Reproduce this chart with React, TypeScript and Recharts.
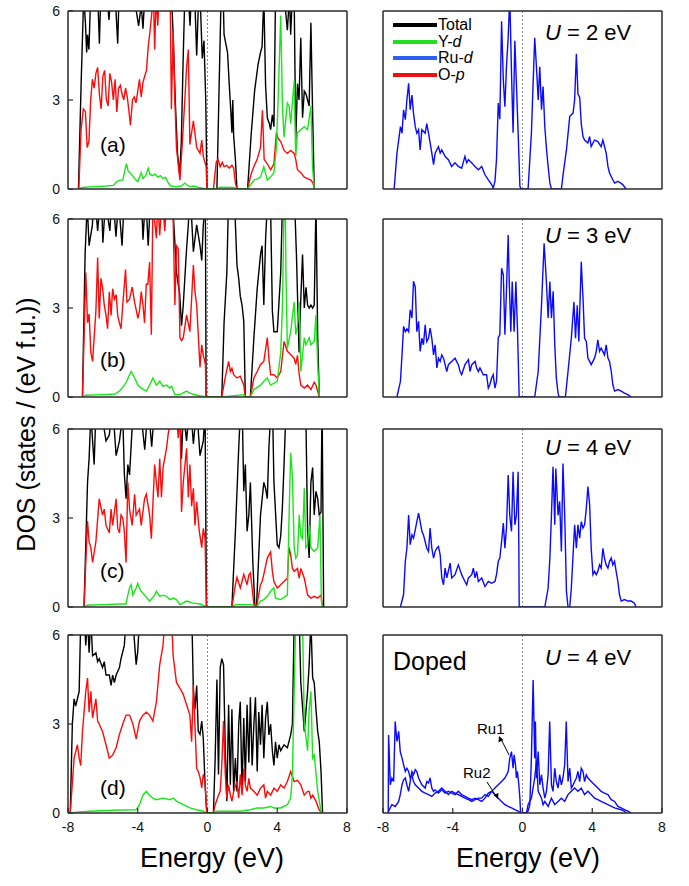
import { LineChart, Line, XAxis, YAxis, ReferenceLine } from 'recharts';

type Pt = [number, number];

const energyTicks = [-8, -4, 0, 4, 8];
const dosTicks = [0, 3, 6];

// (a) U = 2 eV
const totalA: Pt[] = [[-7.4,0],[-7.25,3.5],[-7.1,6.5],[-7.0,5.6],[-6.93,4.6],[-6.88,5.2],[-6.8,4.7],[-6.7,6.5],[-6.5,7],[-6.3,6.6],[-6.2,4.9],[-6.1,7],[-5.9,7],[-5.75,6.4],[-5.65,5.7],[-5.5,7],[-5.3,6.6],[-5.15,4.9],[-5.05,7],[-4.7,7],[-4.3,6.8],[-3.95,5.5],[-3.8,6.2],[-3.7,5.4],[-3.55,7],[-3.0,7],[-2.5,7],[-2.1,7],[-1.97,5.2],[-1.85,3.0],[-1.72,1.2],[-1.6,0.5],[-1.5,1.6],[-1.4,4.3],[-1.3,6.5],[-1.15,7],[-1.0,5.5],[-0.9,7],[-0.75,6.8],[-0.62,4.5],[-0.5,6.6],[-0.4,6.1],[-0.3,4.4],[-0.2,5.0],[-0.1,3.0],[-0.03,0],[0.54,0],[0.65,3.0],[0.78,6.5],[0.88,7],[0.95,5.2],[1.05,4.9],[1.15,4.6],[1.25,3.5],[1.35,2.5],[1.4,1.9],[1.45,3.0],[1.5,1.8],[1.6,1.0],[1.69,0],[2.3,0],[2.5,1.8],[2.7,3.3],[2.9,4.2],[3.04,4.6],[3.13,4.8],[3.23,6.5],[3.33,3.5],[3.43,2.4],[3.55,2.2],[3.62,2.0],[3.72,2.5],[3.81,2.1],[3.9,6.5],[4.0,7],[4.2,7],[4.4,6.5],[4.58,5.35],[4.7,6.5],[4.77,5.2],[4.9,7],[4.97,6.5],[5.06,1.65],[5.16,3.55],[5.25,3.0],[5.35,5.1],[5.45,2.4],[5.55,3.3],[5.65,3.2],[5.74,3.0],[5.83,2.8],[5.93,5.6],[6.02,2.8],[6.12,0]];
const oxyA: Pt[] = [[-7.38,0],[-7.25,2.0],[-7.12,2.7],[-7.0,2.6],[-6.9,1.4],[-6.8,1.6],[-6.7,3.0],[-6.6,3.7],[-6.5,3.4],[-6.4,3.9],[-6.3,4.1],[-6.2,3.2],[-6.1,2.7],[-6.0,3.8],[-5.9,4.0],[-5.8,3.0],[-5.7,2.8],[-5.6,3.9],[-5.5,3.6],[-5.4,3.0],[-5.3,3.7],[-5.2,2.6],[-5.1,3.4],[-5.0,3.5],[-4.9,3.2],[-4.8,3.0],[-4.7,3.4],[-4.6,3.1],[-4.5,2.6],[-4.42,2.15],[-4.3,3.0],[-4.2,3.1],[-4.1,2.9],[-4.0,3.3],[-3.9,3.7],[-3.8,3.1],[-3.7,3.6],[-3.6,3.8],[-3.5,4.0],[-3.4,4.8],[-3.3,5.3],[-3.2,5.9],[-3.1,6.5],[-3.03,4.7],[-2.95,6.5],[-2.85,5.5],[-2.75,7],[-2.6,6.4],[-2.5,7],[-2.3,6.6],[-2.15,7],[-2.07,2.7],[-1.97,5.35],[-1.87,3.0],[-1.78,1.4],[-1.58,0.3],[-1.45,1.5],[-1.3,3.0],[-1.2,4.1],[-1.1,4.7],[-1.01,1.5],[-0.81,2.3],[-0.62,1.4],[-0.43,1.2],[-0.33,1.65],[-0.24,1.1],[-0.08,0.76],[-0.03,0],[0.34,0],[0.5,0.9],[0.6,1.0],[0.73,0.75],[0.85,0.9],[0.95,0.75],[1.1,0.8],[1.25,0.7],[1.4,0.8],[1.5,0.7],[1.6,0.2],[1.69,0],[2.3,0],[2.5,0.5],[2.66,0.76],[2.85,1.0],[3.04,1.4],[3.15,2.65],[3.25,1.0],[3.43,0.85],[3.62,0.65],[3.81,0.85],[3.95,1.9],[4.05,1.7],[4.2,1.6],[4.39,1.3],[4.58,1.2],[4.77,1.3],[4.97,1.2],[5.06,1.0],[5.16,0.65],[5.35,0.55],[5.55,0.4],[5.74,0.35],[5.93,0.3],[6.05,0.2],[6.12,0]];
const yttA: Pt[] = [[-7.38,0],[-7.2,0.05],[-6.5,0.08],[-5.8,0.1],[-5.4,0.12],[-5.2,0.25],[-5.0,0.3],[-4.86,0.3],[-4.75,0.6],[-4.65,0.85],[-4.55,0.6],[-4.45,0.55],[-4.3,0.45],[-4.1,0.3],[-4.0,0.25],[-3.9,0.4],[-3.8,0.55],[-3.7,0.35],[-3.55,0.45],[-3.4,0.7],[-3.3,0.5],[-3.15,0.45],[-3.0,0.5],[-2.85,0.4],[-2.7,0.45],[-2.55,0.35],[-2.4,0.4],[-2.25,0.2],[-2.1,0.1],[-1.8,0.08],[-1.5,0.1],[-1.3,0.2],[-1.15,0.12],[-1.0,0.08],[-0.8,0.1],[-0.5,0.05],[-0.04,0],[0.54,0],[0.7,0.06],[1.5,0.05],[1.69,0],[2.3,0],[2.66,0.3],[2.9,0.35],[3.04,0.4],[3.23,0.75],[3.43,0.3],[3.62,0.4],[3.81,0.55],[3.95,1.4],[4.05,3.0],[4.2,5.85],[4.3,2.7],[4.39,1.75],[4.58,2.9],[4.68,2.8],[4.77,2.2],[4.97,3.65],[5.06,1.1],[5.16,1.9],[5.35,2.0],[5.55,2.1],[5.74,2.0],[5.93,2.8],[6.02,0.8],[6.12,0]];
const ruA: Pt[] = [[-7.36,0],[-7.2,1.2],[-7.0,2.1],[-6.91,1.88],[-6.82,2.67],[-6.72,2.34],[-6.63,3.0],[-6.53,3.56],[-6.44,2.67],[-6.34,3.17],[-6.25,2.55],[-6.15,2.1],[-6.06,1.88],[-5.96,2.0],[-5.87,1.32],[-5.77,2.0],[-5.58,1.88],[-5.49,2.2],[-5.39,1.88],[-5.2,1.21],[-5.1,0.82],[-5.01,1.21],[-4.82,1.43],[-4.72,1.21],[-4.63,1.32],[-4.44,1.1],[-4.25,0.99],[-4.06,0.76],[-3.87,0.88],[-3.68,0.76],[-3.49,0.7],[-3.3,1.1],[-3.2,0.88],[-3.1,0.99],[-2.91,0.88],[-2.72,0.76],[-2.53,0.65],[-2.34,0.76],[-2.15,0.48],[-1.96,0.31],[-1.77,0.15],[-1.68,0.03],[-1.58,0.26],[-1.49,1.0],[-1.39,2.9],[-1.3,2.35],[-1.2,5.65],[-1.1,3.67],[-1.01,2.77],[-0.92,4.12],[-0.82,5.13],[-0.73,6.5],[-0.63,3.9],[-0.54,1.9],[-0.44,5.0],[-0.35,3.56],[-0.25,1.9],[-0.15,0.1],[-0.09,0],[0.32,0],[0.51,1.88],[0.7,5.1],[0.8,4.12],[0.9,3.0],[0.99,4.12],[1.09,2.67],[1.18,3.45],[1.28,2.1],[1.38,1.32],[1.47,0.76],[1.57,0.2],[1.66,0],[2.23,0],[2.33,0.5],[2.52,1.32],[2.71,2.45],[2.9,2.56],[2.99,3.0],[3.09,4.56],[3.18,3.2],[3.28,3.09],[3.37,2.2],[3.47,1.77],[3.56,1.65],[3.75,1.55],[3.85,1.77],[3.94,1.43],[4.13,1.65],[4.32,1.6],[4.51,1.43],[4.61,1.65],[4.8,1.21],[4.9,0.76],[4.99,0.54],[5.18,0.31],[5.28,0.2],[5.47,0.26],[5.75,0.15],[5.94,0]];

// (b) U = 3 eV
const totalB: Pt[] = [[-7.17,0],[-7.02,4.8],[-6.9,6.5],[-6.79,5.1],[-6.6,5.8],[-6.5,7],[-6.3,5.6],[-6.1,7],[-6.0,5.2],[-5.85,6.6],[-5.6,5.6],[-5.45,7],[-5.25,5.4],[-5.1,6.6],[-4.9,5.1],[-4.75,7],[-4.3,7],[-3.8,7],[-3.7,5.3],[-3.55,6.8],[-3.4,5.1],[-3.25,7],[-3.0,7],[-2.5,7],[-2.05,7],[-1.9,5.5],[-1.78,4.2],[-1.6,3.5],[-1.49,2.4],[-1.39,3.1],[-1.2,5.0],[-1.1,5.8],[-1.0,7],[-0.81,4.9],[-0.62,5.8],[-0.43,5.1],[-0.33,4.6],[-0.24,5.8],[-0.12,6.5],[-0.08,0],[0.82,0],[0.95,2.5],[1.11,4.2],[1.2,6.5],[1.4,7],[1.55,6.6],[1.69,4.45],[1.79,4.0],[1.88,3.4],[1.98,3.1],[2.08,2.55],[2.17,0],[2.46,0],[2.66,2.0],[2.85,3.65],[3.04,4.8],[3.13,5.1],[3.23,3.1],[3.33,5.3],[3.43,6.5],[3.6,7],[3.72,2.9],[3.81,2.2],[4.0,2.2],[4.2,4.2],[4.3,6.6],[4.5,7],[4.8,7],[5.0,6.5],[5.1,4.8],[5.25,1.5],[5.35,3.3],[5.45,4.8],[5.55,3.0],[5.65,3.7],[5.74,3.1],[5.83,3.0],[5.93,3.1],[6.03,3.0],[6.12,3.1],[6.22,6.5],[6.32,2.0],[6.41,0]];
const oxyB: Pt[] = [[-7.17,0],[-6.98,4.2],[-6.88,2.5],[-6.79,2.8],[-6.69,1.5],[-6.59,1.2],[-6.5,2.0],[-6.4,2.9],[-6.3,4.7],[-6.21,2.65],[-6.11,4.0],[-6.02,3.7],[-5.92,3.1],[-5.82,2.75],[-5.73,2.3],[-5.63,3.55],[-5.53,2.75],[-5.44,3.65],[-5.34,3.3],[-5.24,3.45],[-5.15,2.75],[-5.05,2.5],[-4.96,2.3],[-4.86,3.1],[-4.7,4.3],[-4.62,3.2],[-4.47,3.3],[-4.32,3.7],[-4.18,3.2],[-3.99,2.65],[-3.9,2.9],[-3.8,3.55],[-3.7,3.1],[-3.61,2.5],[-3.51,3.8],[-3.42,3.8],[-3.32,4.55],[-3.22,2.1],[-3.13,6.5],[-2.93,5.35],[-2.85,6.6],[-2.74,5.45],[-2.6,6.8],[-2.45,5.6],[-2.3,7],[-2.1,6.6],[-1.97,6.0],[-1.87,3.1],[-1.78,5.1],[-1.68,5.0],[-1.58,2.0],[-1.49,1.9],[-1.39,2.0],[-1.2,2.77],[-1.01,2.2],[-0.81,4.45],[-0.72,3.55],[-0.62,3.1],[-0.43,1.0],[-0.33,1.76],[-0.24,1.4],[-0.12,1.1],[-0.08,0],[0.82,0],[1.0,0.6],[1.21,1.2],[1.31,0.86],[1.4,0.97],[1.5,0.75],[1.69,0.64],[1.88,0.7],[2.08,0.4],[2.17,0],[2.46,0],[2.66,0.64],[2.85,0.86],[3.04,1.1],[3.23,1.2],[3.43,2.0],[3.52,1.3],[3.62,0.75],[3.81,0.75],[4.0,0.64],[4.2,0.86],[4.39,1.87],[4.58,1.54],[4.77,1.43],[4.97,1.3],[5.06,1.1],[5.16,1.4],[5.26,0.75],[5.35,0.4],[5.55,0.3],[5.74,0.4],[5.93,0.25],[6.12,0.5],[6.22,0.4],[6.41,0]];
const yttB: Pt[] = [[-7.17,0],[-7.0,0.06],[-6.0,0.08],[-5.3,0.1],[-5.05,0.2],[-4.76,0.4],[-4.63,0.53],[-4.47,0.75],[-4.38,0.86],[-4.18,0.64],[-3.99,0.4],[-3.8,0.3],[-3.51,0.2],[-3.32,0.4],[-3.13,0.64],[-2.93,0.4],[-2.74,0.53],[-2.55,0.36],[-2.35,0.4],[-2.16,0.3],[-2.06,0.36],[-1.87,0.08],[-1.58,0.08],[-1.2,0.2],[-1.01,0.13],[-0.62,0.06],[-0.08,0],[0.82,0],[1.11,0.02],[2.08,0.08],[2.17,0],[2.46,0],[2.66,0.25],[3.04,0.4],[3.23,0.53],[3.43,0.64],[3.62,0.4],[4.0,0.53],[4.2,1.5],[4.3,3.1],[4.39,6.5],[4.45,7],[4.5,4.2],[4.58,1.65],[4.77,2.2],[4.97,3.2],[5.06,2.1],[5.16,2.4],[5.26,3.2],[5.35,0.86],[5.45,1.4],[5.55,2.0],[5.64,1.76],[5.74,1.87],[5.83,2.0],[5.93,1.76],[6.12,1.87],[6.22,2.77],[6.32,1.1],[6.41,0]];
const ruB: Pt[] = [[-7.2,0],[-7.0,0.53],[-6.91,1.42],[-6.82,2.38],[-6.72,2.2],[-6.63,2.3],[-6.53,2.2],[-6.44,2.94],[-6.34,2.66],[-6.25,3.9],[-6.15,3.7],[-6.06,2.2],[-5.96,2.55],[-5.87,1.54],[-5.77,1.98],[-5.68,1.76],[-5.58,2.43],[-5.49,1.87],[-5.39,1.98],[-5.3,2.32],[-5.2,1.98],[-5.1,1.42],[-5.01,1.76],[-4.91,0.98],[-4.82,1.31],[-4.72,1.2],[-4.63,1.42],[-4.53,1.31],[-4.44,1.09],[-4.34,0.86],[-4.25,1.09],[-4.06,1.2],[-3.87,1.31],[-3.78,1.2],[-3.68,1.09],[-3.58,0.86],[-3.49,0.75],[-3.3,1.09],[-3.1,1.26],[-3.01,0.86],[-2.91,1.09],[-2.72,1.2],[-2.63,0.98],[-2.53,0.86],[-2.44,0.98],[-2.25,0.75],[-2.06,0.75],[-1.96,0.3],[-1.87,0.42],[-1.77,0.64],[-1.68,0.75],[-1.58,0.3],[-1.49,0.53],[-1.39,2.0],[-1.3,2.1],[-1.2,4.34],[-1.1,4.12],[-1.01,2.1],[-0.92,3.59],[-0.82,5.46],[-0.76,3.89],[-0.67,2.2],[-0.59,3.89],[-0.48,2.2],[-0.38,3.89],[-0.29,2.32],[-0.19,0],[0.7,0],[0.9,0.86],[1.09,3.1],[1.24,5.18],[1.37,3.89],[1.47,2.66],[1.57,3.89],[1.66,2.66],[1.76,3.56],[1.85,1.76],[1.94,0.64],[2.04,0.13],[2.1,0],[2.46,0],[2.61,0.86],[2.8,1.98],[2.95,3.2],[3.04,1.98],[3.14,3.09],[3.23,1.87],[3.37,4.56],[3.47,3.33],[3.56,1.98],[3.66,1.87],[3.75,1.31],[3.85,1.2],[3.94,1.09],[4.13,1.31],[4.23,1.54],[4.32,1.93],[4.42,1.54],[4.51,1.65],[4.7,1.42],[4.8,1.76],[4.9,1.31],[4.99,1.2],[5.09,0.86],[5.18,0.42],[5.28,0.2],[5.47,0.25],[5.66,0.2],[5.85,0.13],[6.04,0.08],[6.23,0]];

// (c) U = 4 eV
const totalC: Pt[] = [[-7.08,0],[-6.88,4.2],[-6.79,5.0],[-6.69,6.5],[-6.5,4.8],[-6.4,6.6],[-6.2,7],[-5.82,5.6],[-5.63,5.8],[-5.44,6.8],[-5.24,5.1],[-5.05,5.6],[-4.86,6.5],[-4.77,4.5],[-4.67,3.65],[-4.57,4.8],[-4.47,4.45],[-4.28,6.5],[-3.9,7],[-3.6,5.3],[-3.4,6.8],[-3.2,5.4],[-3.0,7],[-2.5,7],[-2.0,7],[-1.58,6.6],[-1.49,5.0],[-1.39,6.6],[-1.2,5.6],[-1.0,7],[-0.81,5.5],[-0.62,6.7],[-0.43,5.1],[-0.24,5.6],[-0.14,6.6],[-0.06,0],[1.4,0],[1.6,2.55],[1.79,5.35],[1.88,6.5],[1.98,7],[2.08,3.9],[2.17,4.8],[2.27,2.55],[2.37,3.1],[2.46,4.2],[2.6,1.5],[2.72,0],[2.81,0],[3.04,3.1],[3.23,4.2],[3.33,4.0],[3.43,3.65],[3.52,5.35],[3.62,6.5],[3.72,7],[3.81,4.2],[4.0,2.1],[4.1,2.0],[4.2,2.4],[4.29,3.3],[4.39,4.8],[4.49,6.5],[4.8,7],[5.3,7],[5.64,6.5],[5.74,2.55],[5.83,1.65],[5.93,4.2],[6.03,4.7],[6.12,3.1],[6.22,3.9],[6.32,3.65],[6.41,3.1],[6.51,3.2],[6.57,7],[6.66,0]];
const oxyC: Pt[] = [[-7.08,0],[-6.98,1.5],[-6.88,2.9],[-6.79,2.2],[-6.69,2.0],[-6.59,1.5],[-6.4,2.2],[-6.21,3.65],[-6.02,3.1],[-5.92,3.3],[-5.82,2.75],[-5.63,2.5],[-5.53,3.3],[-5.44,2.75],[-5.24,3.65],[-5.15,2.65],[-5.05,2.5],[-4.96,3.1],[-4.86,3.0],[-4.77,2.55],[-4.67,1.5],[-4.57,4.2],[-4.47,3.3],[-4.32,2.75],[-4.18,3.8],[-4.09,3.1],[-3.9,3.3],[-3.8,2.75],[-3.61,3.65],[-3.51,3.8],[-3.32,3.1],[-3.22,2.3],[-3.03,4.8],[-2.93,4.2],[-2.84,3.7],[-2.74,5.0],[-2.64,3.7],[-2.55,4.7],[-2.35,5.35],[-2.26,5.8],[-2.06,6.5],[-1.97,7],[-1.78,6.6],[-1.68,5.7],[-1.58,6.6],[-1.49,3.2],[-1.39,4.2],[-1.2,5.35],[-1.1,3.7],[-1.01,4.8],[-0.91,3.4],[-0.81,4.0],[-0.72,2.75],[-0.62,3.55],[-0.47,2.55],[-0.33,2.0],[-0.24,2.65],[-0.14,2.3],[-0.06,0],[1.4,0],[1.6,0.75],[1.69,1.0],[1.88,0.64],[1.98,0.86],[2.08,1.1],[2.27,0.75],[2.37,1.08],[2.46,1.15],[2.56,0.64],[2.66,0.08],[2.75,0],[2.81,0],[3.04,0.75],[3.13,0.86],[3.23,1.1],[3.43,1.65],[3.62,1.86],[3.72,1.2],[3.81,0.86],[4.0,0.64],[4.2,0.75],[4.39,0.86],[4.58,0.97],[4.68,2.0],[4.77,1.76],[4.87,1.3],[4.97,1.2],[5.16,1.3],[5.26,0.97],[5.35,1.3],[5.55,0.97],[5.74,0.4],[5.93,0.3],[6.12,0.36],[6.32,0.3],[6.51,0.4],[6.6,0]];
const yttC: Pt[] = [[-7.08,0],[-6.9,0.06],[-6.0,0.08],[-5.0,0.1],[-4.67,0.1],[-4.57,0.4],[-4.47,0.64],[-4.38,0.75],[-4.28,0.4],[-4.09,0.64],[-4.0,0.8],[-3.9,0.64],[-3.8,0.53],[-3.61,0.4],[-3.32,0.2],[-3.03,0.4],[-2.93,0.53],[-2.74,0.36],[-2.55,0.4],[-2.35,0.36],[-2.16,0.25],[-1.97,0.3],[-1.78,0.25],[-1.58,0.08],[-1.2,0.2],[-0.81,0.13],[-0.43,0.1],[-0.06,0],[1.4,0],[1.6,0.08],[2.46,0.08],[2.66,0.05],[2.75,0],[2.81,0],[3.04,0.2],[3.23,0.25],[3.43,0.36],[3.62,0.53],[3.81,0.64],[3.9,0.3],[4.2,0.25],[4.58,0.4],[4.68,3.1],[4.77,5.2],[4.87,4.4],[4.97,2.0],[5.06,1.65],[5.16,1.76],[5.26,3.1],[5.35,2.4],[5.45,2.3],[5.55,4.0],[5.64,2.0],[5.74,2.1],[5.83,2.77],[5.93,2.0],[6.12,1.87],[6.32,2.0],[6.45,3.1],[6.53,0.2],[6.6,0]];
const ruC: Pt[] = [[-7.0,0],[-6.82,0.42],[-6.72,1.54],[-6.63,1.98],[-6.53,3.1],[-6.44,2.1],[-6.34,2.43],[-6.25,2.32],[-6.15,2.6],[-6.06,2.88],[-5.96,3.16],[-5.87,2.88],[-5.77,2.55],[-5.68,2.43],[-5.58,2.2],[-5.49,1.98],[-5.39,1.87],[-5.3,2.66],[-5.2,1.98],[-5.1,1.65],[-5.01,1.87],[-4.91,1.98],[-4.82,2.04],[-4.72,1.76],[-4.63,0.98],[-4.53,0.75],[-4.44,1.31],[-4.34,0.98],[-4.15,1.48],[-4.06,0.98],[-3.87,1.09],[-3.68,1.42],[-3.49,1.09],[-3.3,0.86],[-3.2,0.75],[-3.1,0.98],[-2.91,1.09],[-2.82,1.31],[-2.72,0.98],[-2.63,1.2],[-2.53,0.86],[-2.34,0.98],[-2.15,0.69],[-1.96,0.86],[-1.77,0.8],[-1.58,0.86],[-1.49,1.09],[-1.39,1.54],[-1.3,1.65],[-1.2,2.2],[-1.1,2.83],[-1.01,1.98],[-0.92,2.66],[-0.82,4.45],[-0.73,3.09],[-0.63,2.55],[-0.54,4.56],[-0.44,2.77],[-0.35,3.09],[-0.25,4.56],[-0.21,2.0],[-0.19,0],[1.28,0],[1.47,0.64],[1.57,1.65],[1.66,3.09],[1.75,4.73],[1.85,2.77],[1.91,4.67],[2.04,3.09],[2.13,3.56],[2.23,1.87],[2.32,4.84],[2.42,3.09],[2.52,0.53],[2.61,0],[2.71,0],[2.8,0.64],[2.99,2.77],[3.09,1.98],[3.18,2.77],[3.28,2.32],[3.37,2.88],[3.47,2.66],[3.56,2.77],[3.66,3.33],[3.75,4.06],[3.85,3.45],[3.94,1.98],[4.04,1.09],[4.13,1.2],[4.23,1.09],[4.32,1.2],[4.42,1.42],[4.51,1.31],[4.61,1.98],[4.7,1.65],[4.8,1.42],[4.9,1.31],[4.99,1.54],[5.09,1.65],[5.18,1.42],[5.28,1.54],[5.37,1.2],[5.47,0.86],[5.56,0.42],[5.66,0.2],[5.85,0.25],[6.04,0.2],[6.23,0.2],[6.42,0.13],[6.51,0]];

// (d) doped, U = 4 eV
const totalD: Pt[] = [[-7.87,0],[-7.75,3.0],[-7.65,3.85],[-7.56,3.6],[-7.46,3.85],[-7.36,4.1],[-7.27,6.5],[-7.1,7],[-6.98,5.65],[-6.88,6.6],[-6.79,5.4],[-6.69,6.6],[-6.59,5.3],[-6.4,5.4],[-6.3,5.1],[-6.21,5.2],[-6.02,4.9],[-5.92,5.1],[-5.82,4.65],[-5.63,4.65],[-5.53,4.3],[-5.44,4.65],[-5.34,4.4],[-5.24,4.65],[-5.05,4.9],[-4.96,5.2],[-4.77,5.65],[-4.67,6.5],[-4.47,7],[-4.28,6.5],[-4.09,5.0],[-4.0,5.45],[-3.9,6.5],[-3.5,7],[-2.5,7],[-1.5,7],[-0.91,7],[-0.81,4.1],[-0.72,3.5],[-0.62,4.3],[-0.53,2.75],[-0.43,2.65],[-0.33,3.1],[-0.24,2.5],[-0.14,0.95],[-0.04,0],[0.34,0],[0.44,1.85],[0.54,4.5],[0.63,1.3],[0.73,4.9],[0.82,5.2],[0.92,5.0],[1.02,2.1],[1.11,0.4],[1.21,3.65],[1.31,0.95],[1.4,3.5],[1.5,0.73],[1.6,1.85],[1.69,0.73],[1.79,3.0],[1.88,3.75],[1.98,0.73],[2.08,3.2],[2.17,1.06],[2.27,3.65],[2.37,1.7],[2.46,3.9],[2.56,1.6],[2.66,3.0],[2.75,3.9],[2.85,1.4],[2.94,3.4],[3.04,2.3],[3.13,3.65],[3.23,1.85],[3.33,3.2],[3.43,3.75],[3.52,2.63],[3.62,3.0],[3.72,2.1],[3.81,1.6],[3.9,2.4],[4.0,1.85],[4.1,2.3],[4.2,2.1],[4.39,2.3],[4.58,2.2],[4.77,2.63],[4.87,3.0],[4.97,6.5],[5.1,7],[5.25,6.8],[5.35,4.4],[5.55,2.75],[5.74,4.1],[5.83,5.0],[5.93,6.5],[6.03,4.55],[6.12,4.4],[6.22,3.5],[6.32,2.75],[6.41,2.4],[6.51,1.4],[6.6,0]];
const oxyD: Pt[] = [[-7.87,0],[-7.65,1.85],[-7.46,2.3],[-7.36,1.85],[-7.27,1.6],[-7.17,2.75],[-6.98,4.1],[-6.88,4.55],[-6.79,3.4],[-6.69,4.1],[-6.59,3.2],[-6.4,3.85],[-6.3,3.1],[-6.21,3.0],[-6.02,2.75],[-5.82,2.3],[-5.63,1.85],[-5.44,1.95],[-5.24,2.2],[-5.05,2.65],[-4.86,3.0],[-4.67,3.3],[-4.47,3.3],[-4.28,3.0],[-4.09,2.5],[-3.9,3.1],[-3.7,3.3],[-3.51,3.4],[-3.32,3.3],[-3.13,3.1],[-2.93,3.75],[-2.74,5.0],[-2.55,5.65],[-2.45,6.5],[-2.2,7],[-2.06,6.6],[-1.97,5.3],[-1.78,4.4],[-1.58,4.2],[-1.39,4.0],[-1.2,3.65],[-1.01,3.3],[-0.91,2.4],[-0.81,4.3],[-0.72,2.95],[-0.62,1.5],[-0.53,1.4],[-0.43,1.2],[-0.33,0.85],[-0.24,1.3],[-0.14,1.06],[-0.04,0],[0.34,0],[0.44,0.28],[0.63,0.6],[0.73,0.73],[0.82,1.63],[0.92,3.1],[1.02,1.3],[1.11,0.5],[1.21,0.95],[1.31,0.6],[1.4,0.4],[1.5,0.73],[1.69,1.06],[1.79,0.5],[1.88,1.3],[1.98,0.6],[2.08,1.5],[2.17,0.95],[2.27,0.73],[2.37,1.17],[2.46,0.84],[2.66,0.73],[2.85,0.6],[3.04,0.84],[3.23,0.95],[3.33,0.5],[3.43,0.73],[3.62,0.6],[3.81,0.84],[4.0,0.73],[4.2,0.95],[4.39,0.84],[4.58,1.06],[4.77,1.4],[4.97,1.06],[5.16,1.1],[5.35,0.95],[5.55,0.6],[5.74,0.73],[5.83,0.73],[5.93,0.5],[6.03,0.6],[6.22,0.4],[6.41,0.1],[6.57,0]];
const yttD: Pt[] = [[-7.87,0],[-7.5,0.03],[-6.8,0.06],[-5.0,0.1],[-4.09,0.11],[-3.9,0.28],[-3.7,0.6],[-3.51,0.73],[-3.32,0.6],[-3.13,0.5],[-2.93,0.45],[-2.55,0.5],[-2.16,0.45],[-1.97,0.5],[-1.78,0.4],[-1.39,0.28],[-1.01,0.17],[-0.62,0.11],[-0.24,0.06],[-0.04,0],[0.34,0],[0.54,0.06],[1.88,0.06],[2.46,0.11],[2.85,0.17],[3.23,0.17],[3.62,0.22],[3.81,0.17],[4.2,0.17],[4.58,0.28],[4.77,0.5],[4.87,1.3],[4.97,4.1],[5.06,6.5],[5.2,7],[5.35,7],[5.45,6.5],[5.55,3.0],[5.74,2.1],[5.83,3.5],[5.93,4.1],[6.03,1.85],[6.12,1.95],[6.32,0.73],[6.51,0.06],[6.6,0]];
const ru1D: Pt[] = [[-7.7,0],[-7.68,2.63],[-7.58,0.95],[-7.49,1.18],[-7.39,1.06],[-7.3,3.08],[-7.2,2.41],[-7.1,2.75],[-7.01,2.07],[-6.91,1.85],[-6.82,1.63],[-6.72,1.4],[-6.63,1.51],[-6.53,1.4],[-6.44,1.18],[-6.34,1.29],[-6.25,1.06],[-6.15,0.95],[-5.96,0.84],[-5.77,0.73],[-5.58,0.67],[-5.39,0.62],[-5.2,0.56],[-5.01,0.67],[-4.82,0.73],[-4.63,0.84],[-4.44,0.73],[-4.25,0.62],[-4.06,0.73],[-3.87,0.67],[-3.68,0.62],[-3.49,0.56],[-3.3,0.5],[-3.1,0.45],[-2.91,0.39],[-2.72,0.45],[-2.53,0.5],[-2.34,0.5],[-2.15,0.62],[-1.96,0.56],[-1.77,0.73],[-1.58,0.84],[-1.39,0.95],[-1.2,1.06],[-1.01,1.18],[-0.82,1.4],[-0.73,1.85],[-0.63,2.07],[-0.54,1.51],[-0.48,1.96],[-0.4,1.62],[-0.35,1.18],[-0.29,1.4],[-0.21,0.95],[-0.15,0.5],[-0.11,0],[0.23,0],[0.32,0.06],[0.42,0.28],[0.51,1.85],[0.61,4.48],[0.7,1.85],[0.74,3.08],[0.8,1.18],[0.9,2.07],[0.99,0.95],[1.09,1.29],[1.18,0.84],[1.28,0.5],[1.37,0.73],[1.47,1.29],[1.56,3.08],[1.66,0.95],[1.75,0.73],[1.85,1.51],[1.94,1.06],[2.04,0.84],[2.13,1.29],[2.23,0.95],[2.32,1.18],[2.42,1.63],[2.51,3.08],[2.61,1.06],[2.71,1.51],[2.8,0.84],[2.9,0.95],[2.99,1.06],[3.09,1.18],[3.18,1.4],[3.28,1.06],[3.37,1.51],[3.47,1.4],[3.56,1.06],[3.66,1.29],[3.75,1.18],[3.94,1.06],[4.13,0.95],[4.32,0.84],[4.51,0.73],[4.7,0.67],[4.9,0.62],[5.09,0.45],[5.28,0.39],[5.47,0.22],[5.66,0.17],[5.85,0.11],[6.04,0.06],[6.23,0]];
const ru2D: Pt[] = [[-7.7,0],[-7.68,0.06],[-7.49,0.28],[-7.3,0.22],[-7.1,0.39],[-7.01,0.62],[-6.91,0.95],[-6.82,1.12],[-6.72,1.18],[-6.63,0.95],[-6.53,0.73],[-6.44,1.06],[-6.34,1.4],[-6.25,1.29],[-6.15,1.46],[-6.06,1.4],[-5.96,1.18],[-5.77,0.95],[-5.58,0.84],[-5.49,1.06],[-5.39,1.01],[-5.3,1.18],[-5.2,0.84],[-5.1,0.73],[-5.01,0.78],[-4.82,0.67],[-4.63,0.78],[-4.44,0.67],[-4.25,0.73],[-4.06,0.67],[-3.87,0.62],[-3.68,0.73],[-3.49,0.62],[-3.3,0.56],[-3.1,0.5],[-2.91,0.45],[-2.72,0.5],[-2.53,0.45],[-2.34,0.39],[-2.15,0.5],[-1.96,0.67],[-1.77,0.73],[-1.58,0.62],[-1.39,0.5],[-1.2,0.39],[-1.01,0.28],[-0.82,0.22],[-0.63,0.17],[-0.44,0.11],[-0.25,0.06],[-0.11,0],[0.23,0],[0.32,0.28],[0.51,0.5],[0.7,1.18],[0.8,1.74],[0.9,0.73],[1.09,0.5],[1.18,0.28],[1.28,0.39],[1.47,0.22],[1.66,0.5],[1.85,0.28],[2.04,0.39],[2.23,0.5],[2.42,0.39],[2.61,0.62],[2.8,0.73],[2.99,0.84],[3.18,0.73],[3.37,0.84],[3.56,0.62],[3.75,0.73],[3.94,0.62],[4.13,0.5],[4.32,0.45],[4.51,0.39],[4.9,0.28],[5.28,0.17],[5.66,0.11],[5.85,0.06],[5.94,0]];

const FONT = '"Liberation Sans", Arial, Helvetica, sans-serif';
const BLACK = '#000000';
const GREEN = '#19e619';
const RED = '#ff0a0a';
const BLUE = '#0a0aff';

const PLOT_W = 279;
const PLOT_H = 178;
const rowTops = [11, 219, 429, 635];
const colLefts = [68, 383];
const M = { top: 9, right: 6, bottom: 9, left: 2 };

const toRows = (pts: Pt[]) => pts.map(([e, d]) => ({ e, d }));

type Series = { pts: Pt[]; color: string };

const axisLine = { stroke: '#2a2a2a', strokeWidth: 1.5 };
const tickLine = { stroke: '#2a2a2a', strokeWidth: 1.2 };
const tickText = { fontSize: 14, fill: '#111', fontFamily: FONT };

function Panel({ left, top, series, showY, showX }: { left: number; top: number; series: Series[]; showY: boolean; showX: boolean }) {
  const yW = showY ? 40 : 10;
  const xH = showX ? 30 : 1;
  return (
    <div style={{ position: 'absolute', left: left - yW - M.left, top: top - 1 - M.top }}>
      <LineChart width={M.left + yW + PLOT_W + 1 + M.right} height={M.top + 1 + PLOT_H + xH + M.bottom} margin={M}>
        <XAxis xAxisId="b" type="number" dataKey="e" domain={[-8, 8]} ticks={energyTicks} interval={0} allowDataOverflow
          height={xH} tick={showX ? tickText : false} tickSize={-5} tickMargin={14} axisLine={axisLine} tickLine={tickLine} />
        <XAxis xAxisId="t" orientation="top" type="number" dataKey="e" domain={[-8, 8]} ticks={energyTicks} interval={0} allowDataOverflow
          height={1} tick={false} tickSize={-5} axisLine={axisLine} tickLine={tickLine} />
        <YAxis yAxisId="l" type="number" domain={[0, 6]} ticks={dosTicks} interval={0} allowDataOverflow
          width={yW} tick={showY ? tickText : false} tickSize={-5} tickMargin={13} axisLine={axisLine} tickLine={tickLine} />
        <YAxis yAxisId="r" orientation="right" type="number" domain={[0, 6]} ticks={dosTicks} interval={0} allowDataOverflow
          width={1} tick={false} tickSize={-5} axisLine={axisLine} tickLine={tickLine} />
        <ReferenceLine xAxisId="b" yAxisId="l" x={0} stroke="#8a8a8a" strokeWidth={1} strokeDasharray="2 2" />
        {series.map((s, i) => (
          <Line key={i} xAxisId="b" yAxisId="l" data={toRows(s.pts)} dataKey="d" type="linear" stroke={s.color}
            strokeWidth={1.4} dot={false} activeDot={false} isAnimationActive={false} />
        ))}
      </LineChart>
    </div>
  );
}

const txt = (left: number, top: number, size: number, extra: object = {}) => ({
  position: 'absolute' as const, left, top, fontSize: size, lineHeight: 1, fontFamily: FONT, color: '#000', whiteSpace: 'nowrap' as const, ...extra,
});

const legendItems = [
  { label: 'Total', italic: '', color: '#000000' },
  { label: 'Y-', italic: 'd', color: '#22dd22' },
  { label: 'Ru-', italic: 'd', color: '#2f5ff0' },
  { label: 'O-', italic: 'p', color: '#ee1111' },
];

const panelTags = ['(a)', '(b)', '(c)', '(d)'];
const uValues = ['2', '3', '4', '4'];

export default function App() {
  const leftSeries: Series[][] = [
    [{ pts: totalA, color: BLACK }, { pts: oxyA, color: RED }, { pts: yttA, color: GREEN }],
    [{ pts: totalB, color: BLACK }, { pts: oxyB, color: RED }, { pts: yttB, color: GREEN }],
    [{ pts: totalC, color: BLACK }, { pts: oxyC, color: RED }, { pts: yttC, color: GREEN }],
    [{ pts: totalD, color: BLACK }, { pts: oxyD, color: RED }, { pts: yttD, color: GREEN }],
  ];
  const rightSeries: Series[][] = [
    [{ pts: ruA, color: BLUE }],
    [{ pts: ruB, color: BLUE }],
    [{ pts: ruC, color: BLUE }],
    [{ pts: ru2D, color: BLUE }, { pts: ru1D, color: BLUE }],
  ];
  const tagTops = [134, 349, 560, 777];
  const uTops = [22, 225, 437, 647];

  return (
    <div style={{ position: 'absolute', left: 0, top: 0, width: 689, height: 886, background: '#fff', fontFamily: FONT }}>
      {rowTops.map((t, r) => (
        <Panel key={'l' + r} left={colLefts[0]} top={t} series={leftSeries[r]} showY showX={r === 3} />
      ))}
      {rowTops.map((t, r) => (
        <Panel key={'r' + r} left={colLefts[1]} top={t} series={rightSeries[r]} showY={false} showX={r === 3} />
      ))}

      {panelTags.map((tag, r) => (
        <div key={tag} style={txt(100, tagTops[r], 21)}>{tag}</div>
      ))}
      {uValues.map((u, r) => (
        <div key={'u' + r} style={txt(545, uTops[r], 22)}><i>U</i> = {u} eV</div>
      ))}
      <div style={txt(393, 649, 25)}>Doped</div>
      <div style={txt(477, 721, 15)}>Ru1</div>
      <div style={txt(463, 765, 15)}>Ru2</div>
      <svg style={{ position: 'absolute', left: 0, top: 0, pointerEvents: 'none' }} width={689} height={886}>
        <line x1={509} y1={755} x2={501} y2={739} stroke="#000" strokeWidth={1} />
        <path d="M499,736 L498.5,742.5 L503.5,740 Z" fill="#000" />
        <line x1={487} y1={782} x2={496} y2={796} stroke="#000" strokeWidth={1} />
        <path d="M498,799 L493.5,795 L498.5,793 Z" fill="#000" />
      </svg>

      {legendItems.map((it, i) => (
        <div key={it.label} style={{ position: 'absolute', left: 393, top: 17 + i * 16.7, height: 16, display: 'flex', alignItems: 'center' }}>
          <div style={{ width: 44, height: 4, background: it.color }} />
          <span style={{ fontSize: 16, lineHeight: 1, fontFamily: FONT, marginLeft: 1 }}>{it.label}<i>{it.italic}</i></span>
        </div>
      ))}

      <div style={txt(140, 845, 27)}>Energy (eV)</div>
      <div style={txt(456, 845, 27)}>Energy (eV)</div>
      <div style={{ ...txt(26 - 160, 425 - 13, 25), width: 320, textAlign: 'center', transform: 'rotate(-90deg)' }}>
        DOS (states / (eV f.u.))
      </div>
    </div>
  );
}
